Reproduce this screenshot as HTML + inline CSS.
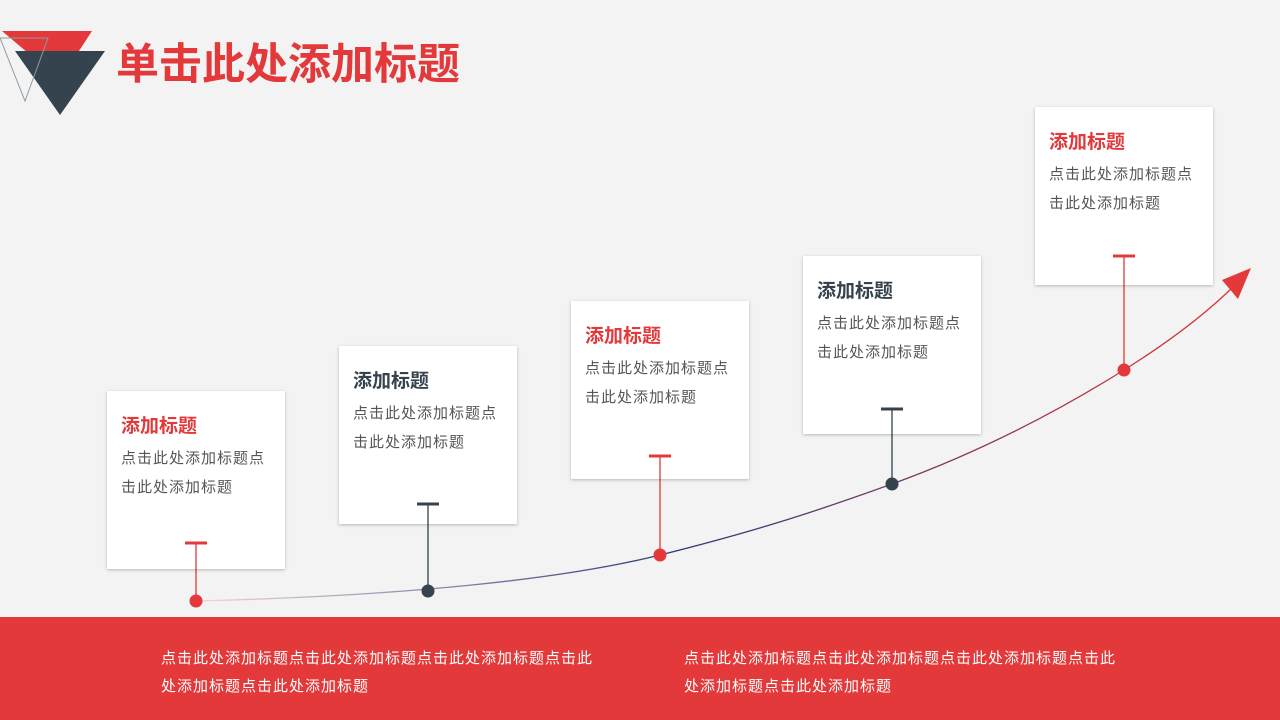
<!DOCTYPE html>
<html><head><meta charset="utf-8"><style>
body{margin:0;width:1280px;height:720px;background:#f3f3f3;position:relative;overflow:hidden;font-family:"Liberation Sans","Noto Sans CJK SC",sans-serif}
.t{position:absolute;left:116px;top:38px;font-size:43px;font-weight:bold;color:#e3393a;line-height:54px;letter-spacing:0px}
.c{position:absolute;width:178px;height:178px;background:#fff;box-shadow:0 1px 3px rgba(0,0,0,.25)}
.c h3{margin:0;position:absolute;left:14px;top:24px;font-size:19px;line-height:24px;font-weight:bold}
.c p{margin:0;position:absolute;left:14px;top:53px;font-size:15px;letter-spacing:1px;line-height:29px;color:#555;width:150px}
.r{color:#e3393a}.d{color:#34434d}
.bar{position:absolute;left:0;top:617px;width:1280px;height:103px;background:#e3393a}
.bar p{position:absolute;top:28px;margin:0;color:#fff;font-size:15px;letter-spacing:1px;line-height:28px;width:440px}
</style></head><body>
<svg width="1280" height="720" style="position:absolute;left:0;top:0">
<defs><linearGradient id="g" x1="196" y1="0" x2="1250" y2="0" gradientUnits="userSpaceOnUse">
<stop offset="0" stop-color="#f0d6d8"/><stop offset="0.45" stop-color="#2e3a78"/><stop offset="1" stop-color="#e3393a"/></linearGradient></defs>
<polygon points="2,31 92,31 60,80" fill="#e3393a"/>
<polygon points="15,51 105,51 60,115" fill="#34434d"/>
<polygon points="0,38 48,38 25,101" fill="none" stroke="#8d9aa3" stroke-width="1"/>
<path d="M196,601 C400,596 560,580 660,555 C760,530 820,510 892,484 C980,452 1060,410 1124,370 C1180,335 1215,305 1236,284" fill="none" stroke="url(#g)" stroke-width="1.3"/>
<polygon points="1251,268 1222,280 1238,299" fill="#e3393a"/>
<g stroke-width="1.3">
<line x1="196" y1="543" x2="196" y2="601" stroke="#e3393a"/>
<line x1="428" y1="504" x2="428" y2="591" stroke="#34434d"/>
<line x1="660" y1="456" x2="660" y2="555" stroke="#e3393a"/>
<line x1="892" y1="409" x2="892" y2="484" stroke="#34434d"/>
<line x1="1124" y1="256" x2="1124" y2="370" stroke="#e3393a"/>
</g>
<circle cx="196" cy="601" r="6.5" fill="#e3393a"/><circle cx="428" cy="591" r="6.5" fill="#34434d"/><circle cx="660" cy="555" r="6.5" fill="#e3393a"/><circle cx="892" cy="484" r="6.5" fill="#34434d"/><circle cx="1124" cy="370" r="6.5" fill="#e3393a"/>
</svg>
<div class="t">单击此处添加标题</div>
<div class="c" style="left:107px;top:391px"><h3 class="r">添加标题</h3><p>点击此处添加标题点击此处添加标题</p></div>
<div class="c" style="left:339px;top:346px"><h3 class="d">添加标题</h3><p>点击此处添加标题点击此处添加标题</p></div>
<div class="c" style="left:571px;top:301px"><h3 class="r">添加标题</h3><p>点击此处添加标题点击此处添加标题</p></div>
<div class="c" style="left:803px;top:256px"><h3 class="d">添加标题</h3><p>点击此处添加标题点击此处添加标题</p></div>
<div class="c" style="left:1035px;top:107px"><h3 class="r">添加标题</h3><p>点击此处添加标题点击此处添加标题</p></div>
<svg width="1280" height="720" style="position:absolute;left:0;top:0;pointer-events:none">
<line x1="196" y1="543" x2="196" y2="569" stroke="#e3393a" stroke-width="1.3"/><line x1="185" y1="543" x2="207" y2="543" stroke="#e3393a" stroke-width="3"/>
<line x1="428" y1="504" x2="428" y2="524" stroke="#34434d" stroke-width="1.3"/><line x1="417" y1="504" x2="439" y2="504" stroke="#34434d" stroke-width="3"/>
<line x1="660" y1="456" x2="660" y2="479" stroke="#e3393a" stroke-width="1.3"/><line x1="649" y1="456" x2="671" y2="456" stroke="#e3393a" stroke-width="3"/>
<line x1="892" y1="409" x2="892" y2="434" stroke="#34434d" stroke-width="1.3"/><line x1="881" y1="409" x2="903" y2="409" stroke="#34434d" stroke-width="3"/>
<line x1="1124" y1="256" x2="1124" y2="285" stroke="#e3393a" stroke-width="1.3"/><line x1="1113" y1="256" x2="1135" y2="256" stroke="#e3393a" stroke-width="3"/>
</svg>
<div class="bar">
<p style="left:161px">点击此处添加标题点击此处添加标题点击此处添加标题点击此处添加标题点击此处添加标题</p>
<p style="left:684px">点击此处添加标题点击此处添加标题点击此处添加标题点击此处添加标题点击此处添加标题</p>
</div>
</body></html>
